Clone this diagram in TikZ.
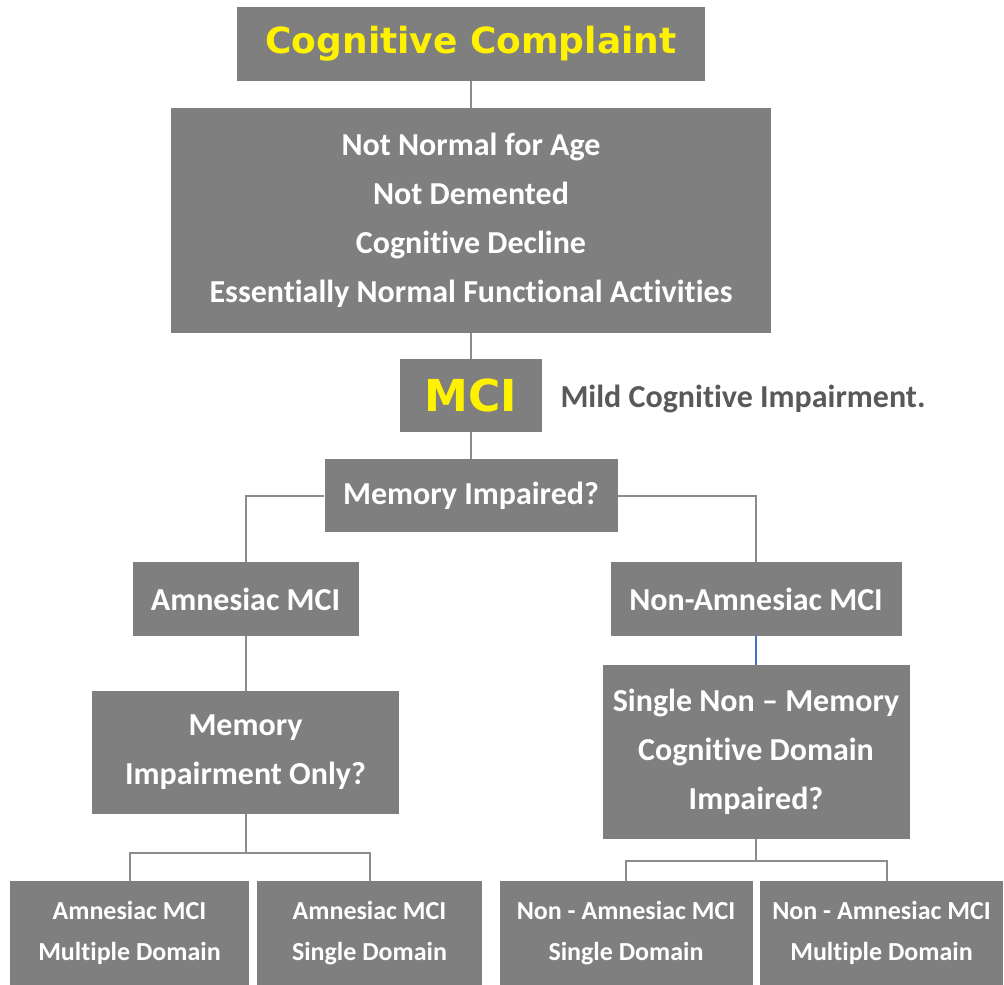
\documentclass[tikz,border=0pt]{standalone}
\usepackage{fontspec}
\setmainfont{Carlito}[Ligatures={NoCommon,NoContextual}]
\newfontfamily\heavyfont{DejaVu Sans}
\usetikzlibrary{positioning}
\definecolor{boxgray}{HTML}{7F7F7F}
\definecolor{linegray}{HTML}{8C8C8C}
\definecolor{textgray}{HTML}{595959}
\definecolor{linkblue}{HTML}{4472C4}

\begin{document}
\begin{tikzpicture}[x=1pt,y=-1pt,on grid,
    greybox/.style={fill=boxgray,text=white,inner sep=0pt,align=center,
      font=\fontsize{32}{49}\selectfont\bfseries},
    headbox/.style={greybox,text=yellow,font=\heavyfont\fontsize{36}{40}\selectfont\bfseries},
    leafbox/.style={greybox,minimum height=104pt,font=\fontsize{26}{41}\selectfont\bfseries},
    link/.style={draw=linegray,line width=2pt}]
   \useasboundingbox (0,0) rectangle (1004,985);
   \node[headbox,minimum width=468pt,minimum height=74pt] (cc) at (471,44) {Cognitive Complaint};
   \node[greybox,minimum width=600pt,minimum height=225pt] (crit) [below=176.5pt of cc]
      {Not Normal for Age\\Not Demented\\Cognitive Decline\\Essentially Normal Functional Activities};
   \node[headbox,minimum width=142pt,minimum height=73pt,font=\heavyfont\fontsize{44}{48}\selectfont\bfseries]
      (mci) [below=175pt of crit] {MCI};
   \node[text=textgray,inner sep=0pt,font=\fontsize{32}{40}\selectfont\bfseries] (mild)
      [below right=3.5pt and 272pt of mci] {Mild Cognitive Impairment.};
   \node[greybox,minimum width=293pt,minimum height=73pt] (memq) [below=100pt of mci] {Memory Impaired?};
   \node[greybox,minimum width=226pt,minimum height=74pt] (amn) [below left=103.5pt and 225.5pt of memq] {Amnesiac MCI};
   \node[greybox,minimum width=291pt,minimum height=74pt] (nonamn) [below right=103.5pt and 285pt of memq] {Non-Amnesiac MCI};
   \node[greybox,minimum width=307pt,minimum height=123pt] (memonly) [below=153.5pt of amn] {Memory\\Impairment Only?};
   \node[greybox,minimum width=307pt,minimum height=174pt] (single) [below=153pt of nonamn]
      {Single Non -- Memory\\Cognitive Domain\\Impaired?};
   \node[leafbox,minimum width=239pt] (amd) [below left=180.5pt and 116pt of memonly] {Amnesiac MCI\\Multiple Domain};
   \node[leafbox,minimum width=225pt] (asd) [below right=180.5pt and 124pt of memonly] {Amnesiac MCI\\Single Domain};
   \node[leafbox,minimum width=253pt] (nsd) [below left=181pt and 130pt of single] {Non - Amnesiac MCI\\Single Domain};
   \node[leafbox,minimum width=243pt] (nmd) [below right=181pt and 125.5pt of single] {Non - Amnesiac MCI\\Multiple Domain};
   \coordinate[below=39pt of memonly.south] (ljoin);
   \coordinate[below=22pt of single.south] (rjoin);
   \path[link]
    (cc) edge (crit)
    (crit) edge (mci)
    (mci) edge (memq)
    (amn) edge (memonly)
    (memonly) edge (ljoin)
    (single) edge (rjoin);
   \draw[link] (memq.west) -| (amn);
   \draw[link] (memq.east) -| (nonamn);
   \draw[link,draw=linkblue,line width=1.5pt] (nonamn) -- (single);
   \draw[link] (ljoin) -| (amd) (ljoin) -| (asd);
   \draw[link] (rjoin) -| (nsd) (rjoin) -| (nmd.north west -| 887,0);
\end{tikzpicture}
\end{document}
